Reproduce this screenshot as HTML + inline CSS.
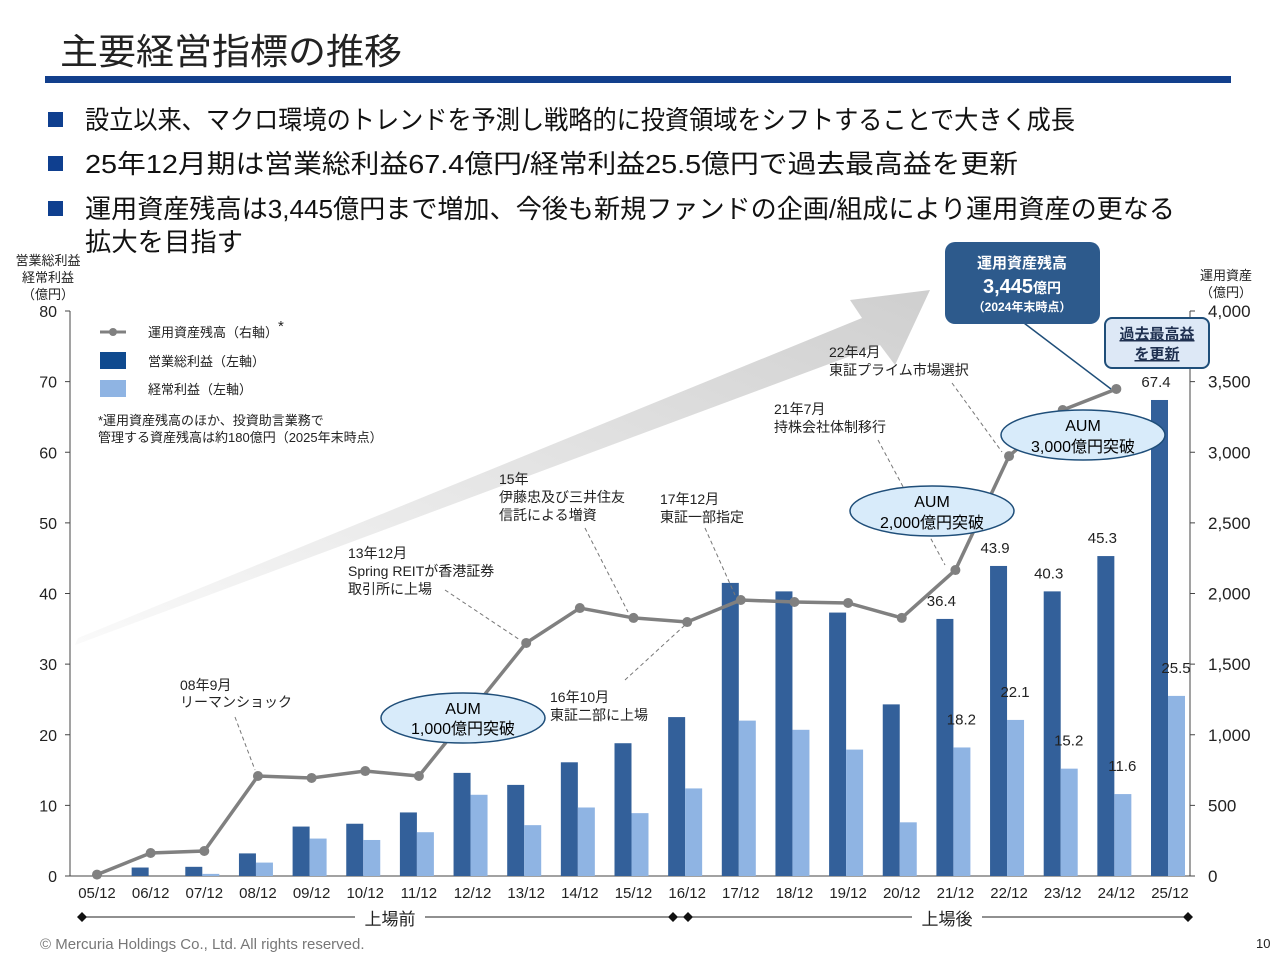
<!DOCTYPE html>
<html><head><meta charset="utf-8"><style>
body{margin:0;width:1280px;height:960px;background:#fff;overflow:hidden;font-family:"Liberation Sans","Noto Sans CJK JP",sans-serif}
</style></head><body>
<svg id="c" width="1280" height="960" style="position:absolute;left:0;top:0" font-family="Liberation Sans, Noto Sans CJK JP, sans-serif">
<defs>
<linearGradient id="ag" x1="0" y1="1" x2="1" y2="0"><stop offset="0" stop-color="#fafafa"/><stop offset="1" stop-color="#cfcfcf"/></linearGradient>
</defs>
<text x="60" y="64" font-size="36" fill="#222" textLength="342" lengthAdjust="spacingAndGlyphs">主要経営指標の推移</text>
<rect x="45" y="76" width="1186" height="7" fill="#123f8c"/>
<g font-size="26" fill="#111">
<rect x="48" y="112" width="15" height="15" fill="#0f3f8f"/><text x="85" y="129" textLength="990" lengthAdjust="spacingAndGlyphs">設立以来、マクロ環境のトレンドを予測し戦略的に投資領域をシフトすることで大きく成長</text>
<rect x="48" y="156" width="15" height="15" fill="#0f3f8f"/><text x="85" y="173" textLength="933" lengthAdjust="spacingAndGlyphs">25年12月期は営業総利益67.4億円/経常利益25.5億円で過去最高益を更新</text>
<rect x="48" y="201" width="15" height="15" fill="#0f3f8f"/><text x="85" y="218" textLength="1090" lengthAdjust="spacingAndGlyphs">運用資産残高は3,445億円まで増加、今後も新規ファンドの企画/組成により運用資産の更なる</text>
<text x="85" y="251" textLength="158" lengthAdjust="spacingAndGlyphs">拡大を目指す</text>
</g>
<polygon points="75,645 880,345 895,365 930,290 850,300 862,318 78,638" fill="url(#ag)"/>
<g id="axes"></g>
<g id="bars"></g>
<g id="line"></g>
<g font-size="13" fill="#222"><text x="48" y="265" text-anchor="middle">営業総利益</text><text x="48" y="282" text-anchor="middle">経常利益</text><text x="48" y="299" text-anchor="middle">（億円）</text></g>
<g font-size="13" fill="#222"><text x="1226" y="280" text-anchor="middle">運用資産</text><text x="1226" y="297" text-anchor="middle">（億円）</text></g>
<g font-size="13" fill="#222">
<line x1="100" y1="332" x2="126" y2="332" stroke="#808080" stroke-width="3"/><circle cx="113" cy="332" r="4" fill="#808080"/><text x="148" y="337">運用資産残高（右軸）<tspan dy="-6" font-size="15">*</tspan></text>
<rect x="100" y="352" width="26" height="17" fill="#0f4a8f"/><text x="148" y="366">営業総利益（左軸）</text>
<rect x="100" y="380" width="26" height="17" fill="#8fb4e3"/><text x="148" y="394">経常利益（左軸）</text>
<text x="98" y="425">*運用資産残高のほか、投資助言業務で</text><text x="98" y="442">管理する資産残高は約180億円（2025年末時点）</text>
</g>
<g font-size="14" fill="#222">
<text x="180" y="690">08年9月</text><text x="180" y="707">リーマンショック</text>
<path d="M235,717 L255,770" stroke="#777" stroke-dasharray="4,3" fill="none"/>
<text x="348" y="558">13年12月</text><text x="348" y="576">Spring REITが香港証券</text><text x="348" y="594">取引所に上場</text>
<path d="M445,590 L520,640" stroke="#777" stroke-dasharray="4,3" fill="none"/>
<text x="499" y="484">15年</text><text x="499" y="502">伊藤忠及び三井住友</text><text x="499" y="520">信託による増資</text>
<path d="M585,528 L628,612" stroke="#777" stroke-dasharray="4,3" fill="none"/>
<text x="660" y="504">17年12月</text><text x="660" y="522">東証一部指定</text>
<path d="M705,528 L735,595" stroke="#777" stroke-dasharray="4,3" fill="none"/>
<text x="550" y="702">16年10月</text><text x="550" y="720">東証二部に上場</text>
<path d="M625,680 L685,625" stroke="#777" stroke-dasharray="4,3" fill="none"/>
<text x="774" y="414">21年7月</text><text x="774" y="432">持株会社体制移行</text>
<path d="M878,440 L945,565" stroke="#777" stroke-dasharray="4,3" fill="none"/>
<text x="829" y="357">22年4月</text><text x="829" y="375">東証プライム市場選択</text>
<path d="M952,383 L1002,452" stroke="#777" stroke-dasharray="4,3" fill="none"/>
</g>
<g><ellipse cx="463" cy="718" rx="82" ry="25" fill="#d8ebfa" stroke="#1f4e79" stroke-width="1.5"/><text x="463" y="714" font-size="16" text-anchor="middle">AUM</text><text x="463" y="734" font-size="16" text-anchor="middle">1,000億円突破</text></g>
<g><ellipse cx="932" cy="511" rx="82" ry="25" fill="#d8ebfa" stroke="#1f4e79" stroke-width="1.5"/><text x="932" y="507" font-size="16" text-anchor="middle">AUM</text><text x="932" y="528" font-size="16" text-anchor="middle">2,000億円突破</text></g>
<g><ellipse cx="1083" cy="435" rx="82" ry="25" fill="#d8ebfa" stroke="#1f4e79" stroke-width="1.5"/><text x="1083" y="431" font-size="16" text-anchor="middle">AUM</text><text x="1083" y="452" font-size="16" text-anchor="middle">3,000億円突破</text></g>
<g>
<line x1="1020" y1="320" x2="1111" y2="389" stroke="#1f4e79" stroke-width="1.5"/>
<rect x="945" y="242" width="155" height="82" rx="10" fill="#2d5a8c"/>
<text x="1022" y="268" font-size="15" font-weight="bold" fill="#fff" text-anchor="middle">運用資産残高</text>
<text x="1022" y="293" font-size="20" font-weight="bold" fill="#fff" text-anchor="middle">3,445<tspan font-size="14">億円</tspan></text>
<text x="1022" y="311" font-size="12" font-weight="bold" fill="#fff" text-anchor="middle">（2024年末時点）</text>
</g>
<g>
<rect x="1105" y="318" width="104" height="50" rx="7" fill="#dde8f6" stroke="#1f4e79" stroke-width="2"/>
<text x="1157" y="339" font-size="15" font-weight="bold" fill="#1f3050" text-anchor="middle" text-decoration="underline">過去最高益</text>
<text x="1157" y="359" font-size="15" font-weight="bold" fill="#1f3050" text-anchor="middle" text-decoration="underline">を更新</text>
</g>
<g font-size="17" fill="#222">
<line x1="82" y1="917" x2="1190" y2="917" stroke="#222"/>
<path d="M82,912 l5,5 -5,5 -5,-5z M673,912 l5,5 -5,5 -5,-5z M688,912 l5,5 -5,5 -5,-5z M1188,912 l5,5 -5,5 -5,-5z" fill="#111"/>
<rect x="355" y="908" width="70" height="20" fill="#fff"/><text x="390" y="925" text-anchor="middle">上場前</text>
<rect x="912" y="908" width="70" height="20" fill="#fff"/><text x="947" y="925" text-anchor="middle">上場後</text>
</g>
<text x="40" y="949" font-size="15" fill="#777">© Mercuria Holdings Co., Ltd. All rights reserved.</text>
<text x="1256" y="948" font-size="13" fill="#222">10</text>
</svg>
<script>
const categories=["05/12","06/12","07/12","08/12","09/12","10/12","11/12","12/12","13/12","14/12","15/12","16/12","17/12","18/12","19/12","20/12","21/12","22/12","23/12","24/12","25/12"];
const grossProfit=[0,1.2,1.3,3.2,7.0,7.4,9.0,14.6,12.9,16.1,18.8,22.5,41.5,40.3,37.3,24.3,36.4,43.9,40.3,45.3,67.4];
const ordinaryProfit=[0,0,0.3,1.9,5.3,5.1,6.2,11.5,7.2,9.7,8.9,12.4,22.0,20.7,17.9,7.6,18.2,22.1,15.2,11.6,25.5];
const aum=[10,163,177,708,694,743,708,null,1650,1897,1827,1798,1954,1940,1933,1827,2166,2973,3299,3448,null];
const leftTicks=[0,10,20,30,40,50,60,70,80];
const rightTicks=[0,500,1000,1500,2000,2500,3000,3500,4000];
const grossLabels={16:"36.4",17:"43.9",18:"40.3",19:"45.3",20:"67.4"};
const ordLabels={16:"18.2",17:"22.1",18:"15.2",19:"11.6",20:"25.5"};
const NS="http://www.w3.org/2000/svg";
const X0=97,DX=53.65,YB=876,YT=311,XL=70,XR=1190;
const x=i=>X0+i*DX;
const yL=v=>YB-(v/80)*(YB-YT);
const yR=v=>YB-(v/4000)*(YB-YT);
function mk(t,a,p){const e=document.createElementNS(NS,t);for(const k in a)e.setAttribute(k,a[k]);p.appendChild(e);return e;}
const ax=document.getElementById('axes');
let e=mk('line',{x1:XL,y1:YT,x2:XL,y2:YB,stroke:'#444'},ax);


e=mk('line',{x1:XR,y1:YT,x2:XR,y2:YB,stroke:'#444'},ax);


e=mk('line',{x1:XL,y1:YB,x2:XR,y2:YB,stroke:'#444'},ax);


leftTicks.forEach(v=>{mk('line',{x1:XL-5,y1:yL(v),x2:XL,y2:yL(v),stroke:'#444'},ax);
const t=mk('text',{x:XL-13,y:yL(v)+6,'font-size':16,'text-anchor':'end',fill:'#222'},ax);t.textContent=v;

});
rightTicks.forEach(v=>{mk('line',{x1:XR,y1:yR(v),x2:XR+5,y2:yR(v),stroke:'#444'},ax);
const t=mk('text',{x:XR+18,y:yR(v)+6,'font-size':17,fill:'#222'},ax);t.textContent=v.toLocaleString('en-US');

});
categories.forEach((c,i)=>{const t=mk('text',{x:x(i),y:898,'font-size':15,'text-anchor':'middle',fill:'#222'},ax);t.textContent=c;

});
const bg=document.getElementById('bars');
categories.forEach((c,i)=>{
 let r=mk('rect',{x:x(i)-19,y:yL(grossProfit[i]),width:17,height:YB-yL(grossProfit[i]),fill:'#33609a'},bg);
 
 
 r=mk('rect',{x:x(i)-2,y:yL(ordinaryProfit[i]),width:17,height:YB-yL(ordinaryProfit[i]),fill:'#8fb4e3'},bg);
 
 
 if(grossLabels[i]){const t=mk('text',{x:x(i)-14,y:yL(grossProfit[i])-13,'font-size':15,'text-anchor':'middle',fill:'#222'},bg);t.textContent=grossLabels[i];
 
 }
 if(ordLabels[i]){const t=mk('text',{x:x(i)+6,y:yL(ordinaryProfit[i])-23,'font-size':15,'text-anchor':'middle',fill:'#222'},bg);t.textContent=ordLabels[i];
 
 }
});
const lg=document.getElementById('line');
let pts=[];aum.forEach((v,i)=>{if(v!=null)pts.push([x(i),yR(v)]);});
const pl=mk('polyline',{points:pts.map(p=>p.join(',')).join(' '),fill:'none',stroke:'#808080','stroke-width':3.5},lg);


pts.forEach(p=>{const c=mk('circle',{cx:p[0],cy:p[1],r:5,fill:'#808080'},lg);

});
</script>
</body></html>
